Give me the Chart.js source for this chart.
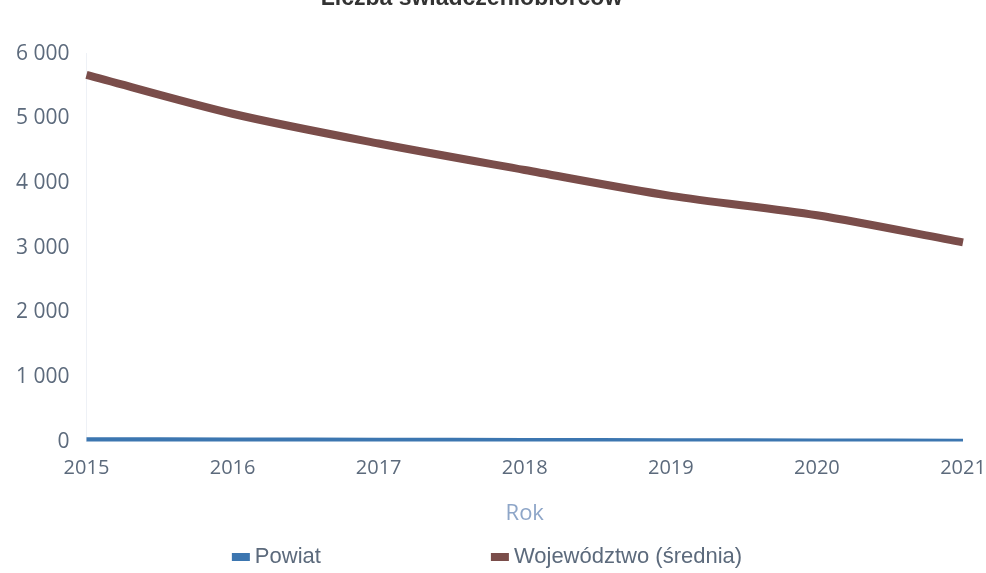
<!DOCTYPE html>
<html>
<head>
<meta charset="utf-8">
<script src="https://cdn.jsdelivr.net/npm/chart.js@4"></script>
<style>
    html, body { margin: 0; padding: 0; background: #ffffff; overflow: hidden; }
    #wrap { position: relative; width: 986px; height: 588px; margin-top: -15px; }
</style>
</head>
<body>
<div id="wrap"><canvas id="lineChart"></canvas></div>
<script>
// Chart data
const years = ["2015", "2016", "2017", "2018", "2019", "2020", "2021"];
const powiat = [30, 26, 22, 18, 14, 10, 6];
const wojewodztwo = [5670, 5070, 4610, 4200, 3800, 3500, 3080];
const yTicks = [0, 1000, 2000, 3000, 4000, 5000, 6000];

const tickColor = "#5c6a7c";

// Format numbers as "6 000"
function formatNumber(v) {
    return String(v).replace(/\B(?=(\d{3})+(?!\d))/g, " ");
}

// Legend drawn under the axis title, with a wide gap between items
const wideLegend = {
    id: "wideLegend",
    afterLayout(chart) {
        // title sits a little left of centre in the original
        if (chart.titleBlock) {
            chart.titleBlock.left -= 21;
            chart.titleBlock.right -= 21;
        }
    },
    afterDraw(chart) {
        const c = chart.ctx;
        const font = "22px 'Liberation Sans'";
        const boxW = 18, boxH = 8, textGap = 5, itemGap = 170;
        c.save();
        c.font = font;
        const items = chart.data.datasets.map(ds => ({
            text: ds.label,
            color: ds.borderColor,
            w: boxW + textGap + c.measureText(ds.label).width
        }));
        const total = items.reduce((s, it) => s + it.w, 0) + itemGap * (items.length - 1);
        let x = (chart.width - total) / 2 - 6;
        const y = chart.height - 16;
        items.forEach(it => {
            c.fillStyle = it.color;
            c.fillRect(x, y - boxH / 2, boxW, boxH);
            c.fillStyle = tickColor;
            c.textBaseline = "middle";
            c.textAlign = "left";
            c.fillText(it.text, x + boxW + textGap, y);
            x += it.w + itemGap;
        });
        c.restore();
    }
};

const ctx = document.getElementById("lineChart").getContext("2d");

new Chart(ctx, {
    type: "line",
    data: {
        labels: years,
        datasets: [
            {
                label: "Powiat",
                data: powiat,
                borderColor: "#3c76b0",
                backgroundColor: "#3c76b0",
                borderWidth: 5,
                pointRadius: 0,
                tension: 0.3
            },
            {
                label: "Województwo (średnia)",
                data: wojewodztwo,
                borderColor: "#7a4d4a",
                backgroundColor: "#7a4d4a",
                borderWidth: 8,
                pointRadius: 0,
                tension: 0.3
            }
        ]
    },
    options: {
        responsive: true,
        maintainAspectRatio: false,
        animation: false,
        layout: { padding: { left: -1, right: 0, top: 0, bottom: 42 } },
        plugins: {
            title: {
                display: true,
                text: "Liczba świadczeniobiorców",
                color: "#333333",
                font: { family: "Liberation Sans", size: 23, weight: "bold" },
                padding: { top: 0, bottom: 41 }
            },
            legend: { display: false },
            tooltip: { enabled: false }
        },
        scales: {
            x: {
                offset: false,
                afterFit: scale => {
                    scale.paddingRight = 23;
                },
                grid: { display: false, drawTicks: false },
                border: { display: false },
                ticks: {
                    color: tickColor,
                    font: { family: "Open Sans", size: 20 },
                    padding: 15,
                    maxRotation: 0
                },
                title: {
                    display: true,
                    text: "Rok",
                    color: "#8ea6c8",
                    font: { family: "Open Sans", size: 22 },
                    padding: { top: 5, bottom: 4 }
                }
            },
            y: {
                min: 0,
                max: 6000,
                afterBuildTicks: axis => {
                    axis.ticks = yTicks.map(v => ({ value: v }));
                },
                grid: { display: false, drawTicks: false },
                border: { display: true, color: "#eef1f6", width: 1 },
                ticks: {
                    color: tickColor,
                    font: { family: "Open Sans", size: 21 },
                    padding: 17,
                    callback: v => formatNumber(v)
                }
            }
        }
    },
    plugins: [wideLegend]
});
</script>
</body>
</html>
